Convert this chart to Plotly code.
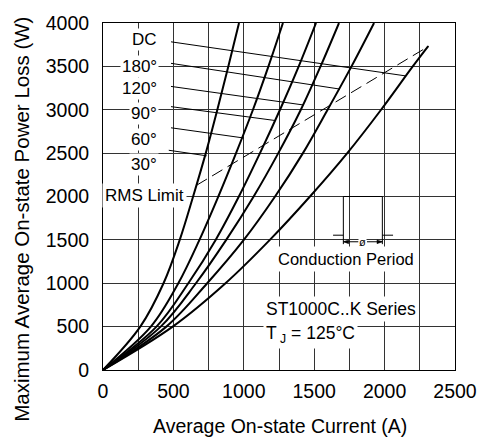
import plotly.graph_objects as go

# ---- data ----
P_levels = [0, 500, 1000, 1500, 2000, 2500, 3000, 3500, 4000]
I_30 = [0, 265, 430, 545, 640, 730, 812, 890, 966]
I_60 = [0, 340, 535, 685, 819, 945, 1065, 1175, 1278]
I_90 = [0, 380, 606, 800, 965, 1115, 1257, 1390, 1513]
I_120 = [0, 410, 660, 875, 1070, 1245, 1405, 1545, 1676]
I_180 = [0, 450, 740, 1000, 1222, 1420, 1595, 1765, 1925]
I_dc = [0, 495, 870, 1185, 1470, 1735, 1975, 2200, 2310]
P_dc = [0, 500, 1000, 1500, 2000, 2500, 3000, 3500, 3734]

rms_I = [665, 2315]
rms_P = [2130, 3734]

labels = ["DC", "180°", "120°", "90°", "60°", "30°"]
label_P = [3811, 3503, 3240, 2954, 2657, 2366]
leader_start_I = [483, 483, 483, 483, 483, 467]
leader_start_P = [3783, 3535, 3269, 3036, 2792, 2533]
leader_end_I = [2150, 1683, 1423, 1222, 1001, 736]
leader_end_P = [3390, 3238, 3055, 2876, 2674, 2469]

x_ticks = [0, 500, 1000, 1500, 2000, 2500]
y_ticks = [0, 500, 1000, 1500, 2000, 2500, 3000, 3500, 4000]

FONT = "Liberation Sans, Arial, sans-serif"
GRID = "#333333"

fig = go.Figure()

for xs in [I_30, I_60, I_90, I_120, I_180]:
    fig.add_trace(go.Scatter(x=xs, y=P_levels, mode="lines",
                             line=dict(color="black", width=2, shape="spline", smoothing=1.0),
                             hoverinfo="skip", showlegend=False))
fig.add_trace(go.Scatter(x=I_dc, y=P_dc, mode="lines",
                         line=dict(color="black", width=2, shape="spline", smoothing=1.0),
                         hoverinfo="skip", showlegend=False))
fig.add_trace(go.Scatter(x=rms_I, y=rms_P, mode="lines",
                         line=dict(color="black", width=1, dash="12px,6px"),
                         hoverinfo="skip", showlegend=False))

shapes = []
# leader lines
for xs, ys, xe, ye in zip(leader_start_I, leader_start_P, leader_end_I, leader_end_P):
    shapes.append(dict(type="line", xref="x", yref="y", x0=xs, y0=ys, x1=xe, y1=ye,
                       line=dict(color="black", width=1), layer="above"))

# white area behind the conduction-period icon
shapes.append(dict(type="rect", xref="x", yref="y", x0=1577, x1=2088, y0=1371, y1=2080,
                   fillcolor="white", line=dict(width=0), layer="below"))
# conduction icon
icon = [(1634, 1554, 1707, 1554), (1707, 1451, 1707, 2000), (1707, 2000, 1984, 2000),
        (1984, 2000, 1984, 1451), (1984, 1554, 2060, 1554),
        (1707, 1478, 1815, 1478), (1875, 1478, 1984, 1478)]
for a, b, c, d in icon:
    shapes.append(dict(type="line", xref="x", yref="y", x0=a, y0=b, x1=c, y1=d,
                       line=dict(color="black", width=1), layer="above"))
# arrowheads
shapes.append(dict(type="path", xref="x", yref="y",
                   path="M 1707 1478 L 1745 1500 L 1745 1456 Z",
                   fillcolor="black", line=dict(color="black", width=0.5), layer="above"))
shapes.append(dict(type="path", xref="x", yref="y",
                   path="M 1984 1478 L 1946 1500 L 1946 1456 Z",
                   fillcolor="black", line=dict(color="black", width=0.5), layer="above"))

annotations = []
for t, p in zip(labels, label_P):
    annotations.append(dict(x=400, y=p, xref="x", yref="y", text=t, showarrow=False,
                            xanchor="right", yanchor="middle", bgcolor="white", borderpad=1,
                            font=dict(family=FONT, size=17, color="black")))
annotations.append(dict(x=295, y=2011, xref="x", yref="y", text="RMS Limit", showarrow=False,
                        xanchor="center", yanchor="middle", bgcolor="white", borderpad=2,
                        font=dict(family=FONT, size=17, color="black")))
annotations.append(dict(x=1724, y=1280, xref="x", yref="y", text="Conduction Period", showarrow=False,
                        xanchor="center", yanchor="middle", bgcolor="white", borderpad=3,
                        font=dict(family=FONT, size=16.5, color="black")))
annotations.append(dict(x=1133, y=705, xref="x", yref="y", text="ST1000C..K Series", showarrow=False,
                        xanchor="left", yanchor="middle", bgcolor="white", borderpad=2,
                        font=dict(family=FONT, size=17.5, color="black")))
annotations.append(dict(x=1133, y=405, xref="x", yref="y", text="T<sub> J</sub> = 125°C", showarrow=False,
                        xanchor="left", yanchor="middle", bgcolor="white", borderpad=2,
                        font=dict(family=FONT, size=17.5, color="black")))
annotations.append(dict(x=1845, y=1478, xref="x", yref="y", text="ø", showarrow=False,
                        bgcolor="white", borderpad=0,
                        font=dict(family=FONT, size=11, color="black")))
# axis titles
annotations.append(dict(x=(280 - 103) / 352, y=-(426.7 - 370) / 350, xref="paper", yref="paper",
                        text="Average On-state Current (A)", showarrow=False,
                        xanchor="center", yanchor="middle",
                        font=dict(family=FONT, size=19.5, color="black")))
annotations.append(dict(x=(21.5 - 103) / 352, y=(370 - 218) / 350, xref="paper", yref="paper",
                        text="Maximum Average On-state Power Loss (W)", showarrow=False, textangle=-90,
                        xanchor="center", yanchor="middle",
                        font=dict(family=FONT, size=20.5, color="black")))

fig.update_layout(
    width=491, height=437,
    margin=dict(l=103, r=36, t=20, b=67),
    paper_bgcolor="white", plot_bgcolor="white",
    shapes=shapes, annotations=annotations,
    font=dict(family=FONT, color="black"),
    xaxis=dict(range=[0, 2500], tickvals=x_ticks, ticktext=[str(v) for v in x_ticks],
               showgrid=True, gridcolor=GRID, gridwidth=1,
               minor=dict(dtick=250, tick0=0, showgrid=True, gridcolor=GRID, gridwidth=1),
               zeroline=False, showline=True, linecolor="black", linewidth=1, mirror=True,
               ticks="outside", ticklen=4, tickcolor="rgba(0,0,0,0)",
               tickfont=dict(family=FONT, size=19.5, color="black")),
    yaxis=dict(range=[0, 4000], tickvals=y_ticks, ticktext=[str(v) for v in y_ticks],
               showgrid=True, gridcolor=GRID, gridwidth=1,
               zeroline=False, showline=True, linecolor="black", linewidth=1, mirror=True,
               ticks="outside", ticklen=9, tickcolor="rgba(0,0,0,0)",
               tickfont=dict(family=FONT, size=19.5, color="black")),
)

fig.write_html("out.html", config={"displayModeBar": False},
               post_script="document.body.style.margin='0px';")
